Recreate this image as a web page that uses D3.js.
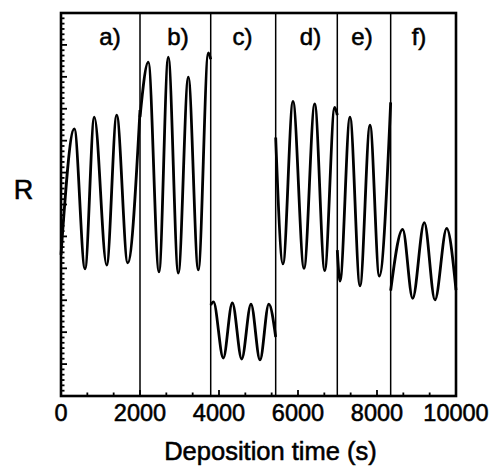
<!DOCTYPE html>
<html>
<head>
<meta charset="utf-8">
<script src="https://cdn.jsdelivr.net/npm/d3@7"></script>
<style>
  html, body { margin: 0; padding: 0; background: #fff; }
  svg { display: block; }
  text { font-family: "Liberation Sans", Arial, Helvetica, sans-serif; fill: #000; stroke: #000; stroke-width: 0.55px; }
</style>
</head>
<body>
<svg id="chart" width="498" height="473"></svg>
<script>
// ---- data (time in s, R in arbitrary units) ----
const segA = [[0,4.42],[337,8.37],[608,3.98],[843,8.74],[1157,4.10],[1410,8.80],[1689,4.17],[2000,8.96]];
const segB = [[2000,8.74],[2210,10.46],[2481,3.89],[2716,10.62],[2970,3.85],[3223,9.99],[3476,3.95],[3730,10.75],[3790,10.55]];
const segC = [[3790,2.85],[3860,2.95],[4109,1.19],[4337,2.92],[4575,1.16],[4810,2.88],[5038,1.13],[5261,2.88],[5435,1.85]];
const segD = [[5435,8.10],[5620,4.14],[5873,9.23],[6152,4.00],[6423,9.15],[6676,3.93],[6929,9.04],[6995,8.80]];
const segE = [[6995,4.57],[7063,3.60],[7316,8.74],[7570,3.45],[7823,8.49],[8058,3.76],[8346,9.20]];
const segF = [[8346,3.30],[8650,5.22],[8903,3.06],[9197,5.43],[9468,3.01],[9764,5.25],[10000,3.32]];
const segments = [segA, segB, segC, segD, segE, segF];
const boundaries = [2000, 3790, 5435, 6995, 8346];
const segLabels = ["a)", "b)", "c)", "d)", "e)", "f)"];
const segLabelT = [1240, 2962, 4595, 6316, 7620, 9063];
const xTickLabels = [0, 2000, 4000, 6000, 8000, 10000];
const xLabel = "Deposition time (s)";
const yLabel = "R";

// ---- layout ----
const svg = d3.select("#chart");
const L = 61, R = 456, T = 13, B = 396;
const x = d3.scaleLinear().domain([0, 10000]).range([L, R]);
const y = d3.scaleLinear().domain([0, 12]).range([B, T]);

// segment separators
svg.append("g").selectAll("line").data(boundaries).join("line")
  .attr("x1", d => x(d)).attr("x2", d => x(d))
  .attr("y1", T).attr("y2", B)
  .attr("stroke", "#000").attr("stroke-width", 1.5);

// curves
const line = d3.line().x(d => x(d[0])).y(d => y(d[1])).curve(d3.curveMonotoneX);
svg.append("g").selectAll("path").data(segments).join("path")
  .attr("d", line)
  .attr("fill", "none").attr("stroke", "#000").attr("stroke-width", 2.8)
  .attr("stroke-linejoin", "round");

// bottom axis ticks (inward)
const xMinor = d3.range(0, 10001, 2000 / 3);
svg.append("g").selectAll("line").data(xMinor).join("line")
  .attr("x1", d => x(d)).attr("x2", d => x(d))
  .attr("y1", B).attr("y2", (d, i) => B - (i % 3 === 0 ? 6 : 3.5))
  .attr("stroke", "#000").attr("stroke-width", 1.8);

// x tick labels
svg.append("g").selectAll("text").data(xTickLabels).join("text")
  .attr("x", d => x(d)).attr("y", 421)
  .attr("text-anchor", "middle").attr("font-size", 23.5)
  .text(d => d);

// left axis ticks (inward)
const yMinor = d3.range(0, 72.5, 1).map(k => k / 6);
svg.append("g").selectAll("line").data(yMinor).join("line")
  .attr("x1", L).attr("x2", (d, i) => L + (i % 6 === 0 ? 6 : 3.5))
  .attr("y1", d => y(d)).attr("y2", d => y(d))
  .attr("stroke", "#000").attr("stroke-width", 1.8);

// frame
svg.append("rect").attr("x", L).attr("y", T).attr("width", R - L).attr("height", B - T)
  .attr("fill", "none").attr("stroke", "#000").attr("stroke-width", 2.6);

// segment labels
svg.append("g").selectAll("text").data(segLabels).join("text")
  .attr("x", (d, i) => x(segLabelT[i])).attr("y", 45)
  .attr("text-anchor", "middle").attr("font-size", 24)
  .text(d => d);

// axis titles
svg.append("text").attr("x", 270.5).attr("y", 460)
  .attr("text-anchor", "middle").attr("font-size", 25.5)
  .text(xLabel);
svg.append("text").attr("x", 23.5).attr("y", 199)
  .attr("text-anchor", "middle").attr("font-size", 27)
  .text(yLabel);
</script>
</body>
</html>
